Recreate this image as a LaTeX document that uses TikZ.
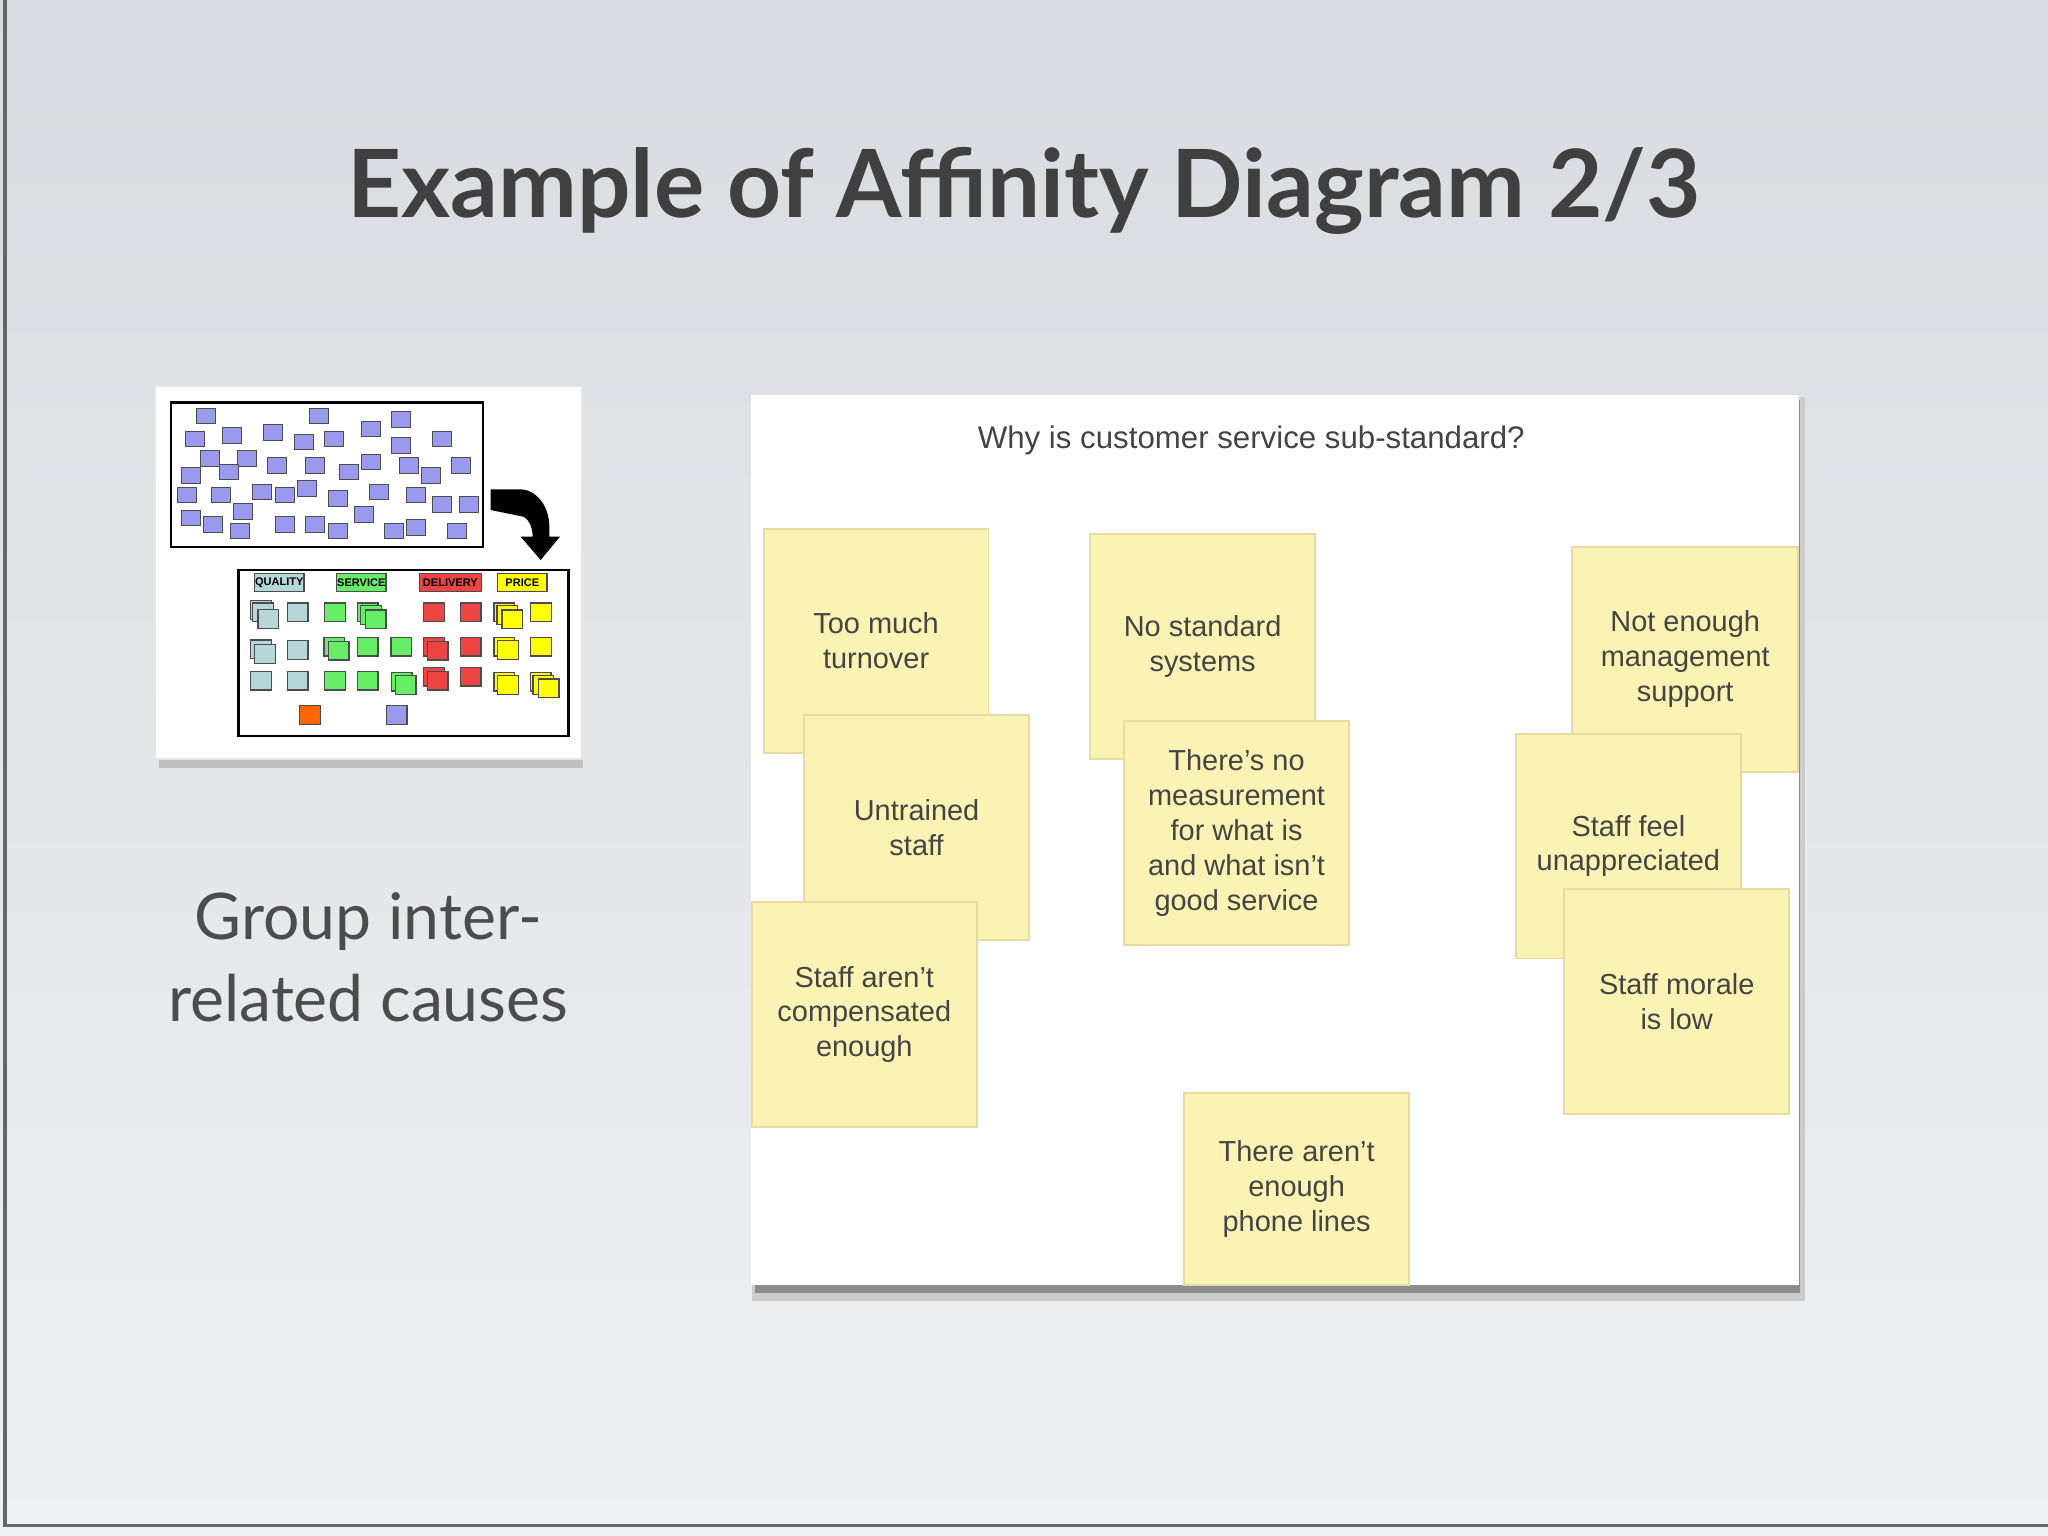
\documentclass[tikz,border=0pt]{standalone}
\usepackage{fontspec}
\setmainfont{Liberation Sans}
\newfontfamily\titlefont{Lato}
\usetikzlibrary{shadows}
\definecolor{sticky}{HTML}{FBF3B4}
\definecolor{stickyedge}{HTML}{E6DCA0}
\definecolor{qcol}{HTML}{B5D7D9}
\definecolor{scol}{HTML}{66EE66}
\definecolor{dcol}{HTML}{EE4444}
\definecolor{pcol}{HTML}{FFFF00}
\definecolor{ucol}{HTML}{9999EE}
\definecolor{ocol}{HTML}{FF6600}
\definecolor{txt}{HTML}{444444}
\definecolor{bgtop}{HTML}{DADBE0}
\definecolor{bgbot}{HTML}{EFF0F2}
\tikzset{
  note/.style={fill=sticky,draw=stickyedge,line width=0.4pt,minimum width=1.72cm,minimum height=1.72cm,anchor=north west,inner sep=0pt,align=center,font=\fontsize{6.3}{7.6}\selectfont,text=txt},
  sq/.style={draw=black!70,line width=0.25pt,minimum width=0.145cm,minimum height=0.12cm,inner sep=0pt},
  csq/.style={draw=black!70,line width=0.25pt,minimum width=0.158cm,minimum height=0.143cm,inner sep=0pt,fill=#1},
  lab/.style={draw=black!70,line width=0.25pt,minimum width=0.378cm,minimum height=0.14cm,inner sep=0pt,fill=#1,font=\fontsize{2.4}{3}\selectfont\bfseries},
}
\begin{document}
\begin{tikzpicture}[x=0.01cm,y=-0.01cm]
\useasboundingbox (0,0) rectangle (1568,1176);
\shade[top color=bgtop,bottom color=bgbot] (0,0) rectangle (1568,1176);
\draw[black!60,line width=0.8pt] (4,0) -- (4,1168) -- (1568,1168);
\node[font=\titlefont\fontsize{20.5}{24}\selectfont\bfseries,text=black!75] (title) at (784,146) {Example of Affinity Diagram 2/3};
\node[font=\titlefont\fontsize{14}{18}\selectfont,text=black!70,align=center] (cap) at (282,733) {Group inter-\\related causes};
% thumbnail
\fill[black!25] (122,575) rectangle (446,588);
\node[fill=white,draw=black!10,minimum width=3.27cm,minimum height=2.85cm,anchor=north west,inner sep=0pt] (thumb) at (118,295) {};
\begin{scope}[shift={(114.85,290.96)},scale=0.2552]
\node[draw=black,line width=0.5pt,minimum width=2.386cm,minimum height=1.105cm,anchor=north west,inner sep=0pt] (up) at (60,64) {};
\foreach \x/\y [count=\i] in {168/108,507/108,754/118,134/177,246/167,370/157,461/186,552/177,664/147,754/196,877/177,180/236,292/236,122/286,236/276,381/256,495/256,597/276,664/246,776/256,843/286,933/256,112/345,213/345,336/336,404/345,472/325,564/355,686/336,798/345,877/374,956/374,122/414,280/394,190/433,269/453,404/433,495/433,564/453,642/404,731/453,798/443,922/453}
  \node[sq,fill=ucol] (u\i) at (\x,\y) {};
\node[draw=black,line width=0.5pt,minimum width=2.526cm,minimum height=1.271cm,anchor=north west,inner sep=0pt] (low) at (262,567) {};
\node[lab=qcol] (lq) at (388,607) {QUALITY};
\node[lab=scol] (ls) at (634,607) {SERVICE};
\node[lab=dcol,minimum width=0.477cm] (ld) at (901,607) {DELIVERY};
\node[lab=pcol] (lp) at (1117,607) {PRICE};
\foreach \x/\y/\c [count=\i] in {
  333/690/qcol,339/697/qcol,355/717/qcol,443/697/qcol,333/808/qcol,345/822/qcol,443/810/qcol,333/902/qcol,443/902/qcol,
  555/697/scol,653/697/scol,663/705/scol,677/718/scol,553/800/scol,566/812/scol,653/800/scol,754/800/scol,555/902/scol,653/902/scol,755/905/scol,767/915/scol,
  852/697/dcol,962/697/dcol,852/800/dcol,863/812/dcol,962/800/dcol,852/890/dcol,863/902/dcol,962/890/dcol,
  1063/697/pcol,1072/705/pcol,1087/718/pcol,1173/697/pcol,1063/800/pcol,1074/810/pcol,1173/800/pcol,1063/905/pcol,1074/915/pcol,1172/905/pcol,1180/915/pcol,1196/925/pcol,
  480/1005/ocol,740/1005/ucol}
  \node[csq=\c] (c\i) at (\x,\y) {};
\fill[black] (1022,328) -- (1110,328) arc[start angle=90,end angle=0,x radius=88,y radius=-112] -- (1198,470) -- (1230,470) -- (1172,540) -- (1112,470) -- (1148,470) arc[start angle=0,end angle=90,x radius=38,y radius=-62] -- (1022,390) -- cycle;
\end{scope}
% main panel
\fill[black!35] (578,306) rectangle (1380,992);
\fill[black!20] (576,304) rectangle (1382,996);
\fill[black!45] (578,306) rectangle (1378,990);
\node[fill=white,minimum width=8.02cm,minimum height=6.81cm,anchor=north west,inner sep=0pt] (panel) at (574,302) {};
\node[font=\fontsize{6.8}{8}\selectfont,text=txt] (q) at (958,337) {Why is customer service sub-standard?};
\node[note] (n1) at (584,404) {Too much\\turnover};
\node[note] (n2) at (615,547) {Untrained\\staff};
\node[note] (n3) at (575,690) {Staff aren't\\compensated\\enough};
\node[note] (n4) at (834,408) {No standard\\systems};
\node[note] (n5) at (860,551) {There's no\\measurement\\for what is\\and what isn't\\good service};
\node[note,minimum width=1.73cm] (n6) at (1203,418) {Not enough\\management\\support};
\node[note] (n7) at (1160,561) {Staff feel\\unappreciated};
\node[note] (n8) at (1197,680) {Staff morale\\is low};
\node[note,minimum height=1.47cm] (n9) at (906,836) {There aren't\\enough\\phone lines};
\end{tikzpicture}
\end{document}
